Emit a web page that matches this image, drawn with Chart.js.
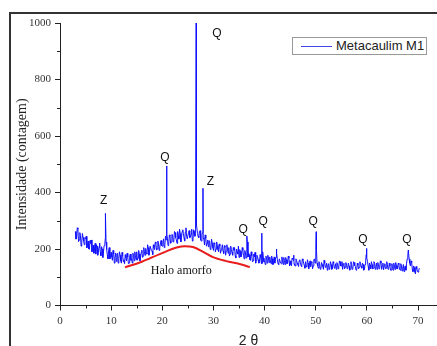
<!DOCTYPE html>
<html>
<head>
<meta charset="utf-8">
<script src="https://cdn.jsdelivr.net/npm/chart.js@4.4.0/dist/chart.umd.min.js"></script>
<style>
html,body{margin:0;padding:0;background:#fff;}
#wrap{position:relative;width:437px;height:346px;overflow:hidden;}
#frame{position:absolute;left:9px;top:12px;width:440px;height:340px;border-left:2px solid #333;border-top:2px solid #333;}
#c{position:absolute;left:0;top:0;}
#legend{position:absolute;left:292px;top:37px;width:133px;height:16px;border:1px solid #999;background:#fff;
  font:13px "Liberation Sans",Arial,sans-serif;color:#222;}
#legend .sw{position:absolute;left:8px;top:8px;width:31px;height:0;border-top:1px solid #4444ee;}
#legend .tx{position:absolute;left:43px;top:0;line-height:16px;white-space:nowrap;}
</style>
</head>
<body>
<div id="wrap">
  <div id="frame"></div>
  <canvas id="c" width="437" height="346"></canvas>
  <div id="legend"><span class="sw"></span><span class="tx">Metacaulim M1</span></div>
</div>
<script>
// ---- data ----
const seriesName = 'Metacaulim M1';
const angleStart = 3.0;      // first sampled 2θ
const angleStep = 0.25;      // sampling step of the scan
// counts at 3.000, 3.250, 3.500 ...
const counts = [
  262,238,270,232, 248,222,241,215, 236,204,228,199, 220,190,214,196, 182,210,188,221,
  176,200,190,215, 225,180,193,165, 188,160,182,170, 156,185,165,178, 150,176,162,180,
  158,172,150,182, 165,185,158,176, 190,168,182,172, 196,175,190,202, 182,205,188,210,
  192,215,198,220, 200,222,205,230, 210,236,215,232, 238,215,245,225, 250,228,258,232,
  262,235,255,240, 268,238,260,244, 236,265,242,270, 235,262,270,285, 245,262,232,252,
  240,214,238,220, 208,228,200,222, 195,218,200,212, 190,210,196,215, 184,206,192,200,
  205,182,198,178, 196,175,200,182, 170,192,178,195, 165,186,200,172, 180,160,176,158,
  172,150,178,162, 155,170,150,168, 158,175,150,168, 172,148,165,155, 150,170,162,145,
  165,148,158,170, 145,162,150,168, 158,140,165,148, 140,160,145,158, 152,138,160,142,
  155,136,150,142, 138,152,140,165, 175,150,132,148, 130,145,128,150, 138,125,148,132,
  145,130,150,135, 128,148,136,155, 140,128,150,135, 148,132,140,128, 145,130,152,138,
  126,142,135,148, 132,145,128,160, 170,138,150,130, 145,132,150,138, 128,146,135,150,
  140,126,148,132, 145,130,140,125, 138,150,128,142, 130,145,125,140, 132,120,140,150,
  180,165,140,152, 120,135,112,130, 118,132
];
// counts at 3.125, 3.375, 3.625 ... (in between the samples above)
const countsMid = [
  235,275,226,258, 210,255,228,240, 245,212,200,230, 232,198,185,220, 215,178,205,190,
  208,170,212,240, 198,165,205,172, 172,195,150,186, 182,150,190,158, 188,155,148,170,
  185,148,175,160, 150,178,190,162, 160,195,158,188, 170,205,178,185, 215,178,210,195,
  180,205,225,196, 228,195,218,212, 225,205,245,250, 212,250,220,252, 225,262,240,220,
  248,270,225,262, 255,228,275,236, 258,240,252,228, 268,245,320,255, 240,265,228,258,
  235,250,210,232, 230,198,235,205, 222,190,225,198, 218,185,205,192, 212,178,215,185,
  175,210,188,205, 205,168,190,210, 198,172,205,178, 195,168,225,185, 162,190,155,182,
  188,160,172,150, 180,148,190,155, 145,170,178,152, 158,175,145,172, 168,185,148,165,
  150,172,145,160, 170,148,175,140, 145,168,160,142, 165,150,138,162, 140,165,150,132,
  138,162,130,158, 155,130,162,150, 200,140,155,128, 152,138,160,135, 150,142,128,155,
  128,155,132,148, 152,130,158,140, 155,145,130,152, 130,150,125,155, 128,155,140,125,
  150,130,155,138, 150,125,145,180, 155,125,142,155, 130,155,128,150, 152,130,158,128,
  150,140,130,155, 128,150,125,148, 125,140,152,130, 150,128,148,122, 145,135,125,165,
  190,150,158,128, 140,118,138,122, 125
];
// diffraction peaks [2θ, counts]
const peakAngles = [8.88, 20.86, 26.62, 27.95, 36.55, 39.45, 42.3, 45.7, 50.1, 59.9, 68.1];
const peakCounts = [326, 494, 1000, 415, 246, 256, 200, 178, 261, 202, 196];
// amorphous halo (red)
const haloAngles = [12.7, 16, 19.5, 22.8, 24.4, 26, 28, 29.9, 32.5, 35.1, 37.1];
const haloCounts = [135, 155, 182, 205, 210, 207, 190, 171, 157, 147, 136];
// phase labels
const labelTexts = ['Z', 'Q', 'Q', 'Z', 'Q', 'Q', 'Q', 'Q', 'Q'];
const labelAngles = [8.54, 20.5, 30.7, 29.4, 35.8, 39.7, 49.5, 59.2, 67.8];
const labelCounts = [370, 525, 963, 438, 267, 297, 297, 234, 234];
const haloLabel = 'Halo amorfo';
const haloLabelAt = [23.7, 123];
// axis ticks
const xMajorTicks = [0, 10, 20, 30, 40, 50, 60, 70];
const xMinorTicks = [5, 15, 25, 35, 45, 55, 65];
const yMajorTicks = [0, 200, 400, 600, 800, 1000];
const yMinorTicks = [100, 300, 500, 700, 900];

// ---- build point lists ----
const scanPoints = counts.map((c, i) => ({x: angleStart + i * angleStep, y: c}));
countsMid.forEach((c, i) => scanPoints.push({x: angleStart + angleStep / 2 + i * angleStep, y: c}));
peakAngles.forEach((a, i) => scanPoints.push({x: a, y: peakCounts[i]}));
scanPoints.sort((p, q) => p.x - q.x);
const haloPoints = haloAngles.map((a, i) => ({x: a, y: haloCounts[i]}));

const minorTicksPlugin = {
  id: 'minorTicks',
  afterDraw(chart) {
    const {ctx, chartArea} = chart;
    const xs = chart.scales.x, ys = chart.scales.y;
    ctx.save();
    ctx.strokeStyle = '#222';
    ctx.lineWidth = 1;
    xMinorTicks.forEach(v => {
      const px = Math.round(xs.getPixelForValue(v)) + 0.5;
      ctx.beginPath(); ctx.moveTo(px, chartArea.bottom); ctx.lineTo(px, chartArea.bottom + 3); ctx.stroke();
    });
    yMinorTicks.forEach(v => {
      const py = Math.round(ys.getPixelForValue(v)) + 0.5;
      ctx.beginPath(); ctx.moveTo(chartArea.left, py); ctx.lineTo(chartArea.left - 3, py); ctx.stroke();
    });
    ctx.restore();
  }
};

const labelsPlugin = {
  id: 'phaseLabels',
  afterDatasetsDraw(chart) {
    const {ctx} = chart;
    const xs = chart.scales.x, ys = chart.scales.y;
    ctx.save();
    ctx.fillStyle = '#111';
    ctx.textAlign = 'center';
    ctx.textBaseline = 'middle';
    ctx.font = '12px "Liberation Sans", Arial, sans-serif';
    labelTexts.forEach((t, i) => {
      ctx.fillText(t, xs.getPixelForValue(labelAngles[i]), ys.getPixelForValue(labelCounts[i]));
    });
    ctx.font = '12px "Liberation Serif", "Times New Roman", serif';
    ctx.fillText(haloLabel, xs.getPixelForValue(haloLabelAt[0]), ys.getPixelForValue(haloLabelAt[1]));
    ctx.restore();
  }
};

const tickFont = {family: '"Liberation Serif", "Times New Roman", serif', size: 11};

new Chart(document.getElementById('c'), {
  type: 'line',
  data: {
    datasets: [
      {label: 'Halo', data: haloPoints, borderColor: '#e81c1c', borderWidth: 2, pointRadius: 0,
       cubicInterpolationMode: 'monotone', fill: false, order: 0},
      {label: seriesName, data: scanPoints, borderColor: '#1010ff', borderWidth: 1, pointRadius: 0,
       tension: 0, fill: false, order: 1}
    ]
  },
  options: {
    responsive: false,
    animation: false,
    devicePixelRatio: 1,
    layout: {padding: {left: 0, right: 0, top: 23, bottom: 0}},
    plugins: {legend: {display: false}, tooltip: {enabled: false}},
    scales: {
      x: {
        type: 'linear', min: 0, max: 73.7,
        afterFit: s => { s.height = 40.5; },
        afterBuildTicks: s => { s.ticks = xMajorTicks.map(v => ({value: v})); },
        ticks: {autoSkip: false, maxRotation: 0, padding: 4, color: '#333', font: tickFont,
                callback: v => String(v)},
        grid: {drawOnChartArea: false, drawTicks: true, tickLength: 5, color: '#222'},
        border: {display: true, color: '#222', width: 1},
        title: {display: true, text: '2 θ', color: '#222',
                font: {family: '"Liberation Sans", Arial, sans-serif', size: 14},
                padding: {top: 0, bottom: -3.5}}
      },
      y: {
        min: 0, max: 1000,
        afterFit: s => { s.width = 60; },
        afterBuildTicks: s => { s.ticks = yMajorTicks.map(v => ({value: v})); },
        ticks: {autoSkip: false, padding: 4, color: '#333', font: tickFont, callback: v => String(v)},
        grid: {drawOnChartArea: false, drawTicks: true, tickLength: 5, color: '#222'},
        border: {display: true, color: '#222', width: 1},
        title: {display: true, text: 'Intensidade (contagem)', color: '#222',
                font: {family: '"Liberation Serif", "Times New Roman", serif', size: 14},
                padding: {top: 14, bottom: 0}}
      }
    }
  },
  plugins: [minorTicksPlugin, labelsPlugin]
});
</script>
</body>
</html>
